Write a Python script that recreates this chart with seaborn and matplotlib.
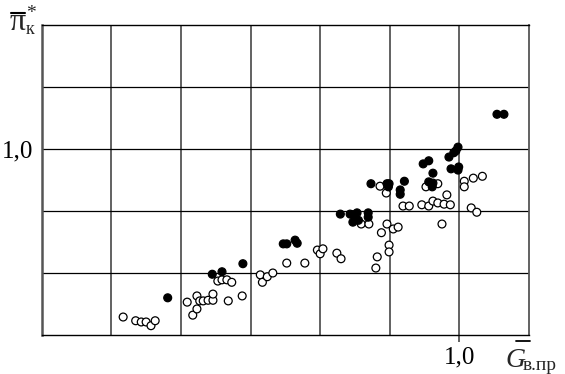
import matplotlib
matplotlib.use("Agg")
import matplotlib.pyplot as plt
from matplotlib.lines import Line2D
import seaborn as sns
import pandas as pd

# ---- data ----
open_x = [0.517, 0.535, 0.543, 0.550, 0.557, 0.563, 0.609, 0.617, 0.623, 0.623,
          0.627, 0.632, 0.639, 0.646, 0.646, 0.668, 0.688, 0.653, 0.659, 0.666,
          0.673, 0.714, 0.717, 0.724, 0.732, 0.752, 0.778, 0.796, 0.800, 0.804,
          0.824, 0.830, 0.880, 0.882, 0.899, 0.899, 0.888, 0.859, 0.870, 0.896,
          0.905, 0.912, 0.886, 0.895, 0.919, 0.928, 0.946, 0.956, 0.962, 0.969,
          0.978, 0.987, 0.982, 0.952, 0.969, 1.007, 1.007, 1.020, 1.033, 1.017,
          1.025, 0.975]
open_y = [0.729, 0.723, 0.721, 0.721, 0.715, 0.723, 0.753, 0.732, 0.742, 0.763,
          0.755, 0.755, 0.756, 0.756, 0.766, 0.755, 0.763, 0.787, 0.789, 0.789,
          0.785, 0.797, 0.785, 0.794, 0.800, 0.816, 0.816, 0.837, 0.831, 0.839,
          0.832, 0.823, 0.808, 0.826, 0.845, 0.834, 0.865, 0.879, 0.879, 0.879,
          0.871, 0.874, 0.940, 0.929, 0.908, 0.908, 0.910, 0.908, 0.916, 0.913,
          0.911, 0.910, 0.926, 0.939, 0.944, 0.948, 0.939, 0.953, 0.956, 0.905,
          0.898, 0.879]

filled_x = [0.581, 0.645, 0.659, 0.689, 0.747, 0.752, 0.764, 0.767, 0.829, 0.843,
            0.847, 0.853, 0.847, 0.855, 0.869, 0.869, 0.873, 0.896, 0.899, 0.898,
            0.915, 0.915, 0.921, 0.956, 0.962, 0.961, 0.962, 0.948, 0.956, 0.985,
            0.992, 0.995, 0.998, 0.988, 0.999, 0.998, 1.054, 1.064]
filled_y = [0.760, 0.798, 0.802, 0.815, 0.847, 0.847, 0.853, 0.848, 0.895, 0.895,
            0.894, 0.897, 0.882, 0.885, 0.897, 0.890, 0.944, 0.944, 0.944, 0.939,
            0.934, 0.927, 0.948, 0.947, 0.945, 0.939, 0.961, 0.976, 0.981, 0.987,
            0.994, 0.997, 1.003, 0.968, 0.971, 0.966, 1.056, 1.056]

x_ticks = [0.5, 0.6, 0.7, 0.8, 0.9, 1.0]
x_tick_labels = ["", "", "", "", "", "1,0"]
y_ticks = [0.8, 0.9, 1.0, 1.1]
y_tick_labels = ["", "", "1,0", ""]

df = pd.DataFrame({
    "G": open_x + filled_x,
    "pi": open_y + filled_y,
    "kind": ["open"] * len(open_x) + ["filled"] * len(filled_x),
})

sns.set_theme(style="white")
plt.rcParams["font.family"] = ["Liberation Serif", "DejaVu Serif"]

W, H = 565, 374
fig = plt.figure(figsize=(W / 100, H / 100), dpi=100)
ax = fig.add_axes([41.7 / W, 39 / H, 487.3 / W, 310 / H])

sns.scatterplot(data=df, x="G", y="pi", hue="kind",
                palette={"open": "white", "filled": "black"},
                edgecolor="black", linewidth=0.9, s=32, legend=False,
                ax=ax, zorder=3, clip_on=False)

ax.set_xlim(0.4, 1.1)
ax.set_ylim(0.7, 1.2)
ax.set_xticks(x_ticks)
ax.set_xticklabels(x_tick_labels, fontsize=18)
ax.set_yticks(y_ticks)
ax.set_yticklabels(y_tick_labels, fontsize=18)
ax.set_xlabel("")
ax.set_ylabel("")

ax.xaxis.grid(True, color="#555555", linewidth=1.3)
ax.yaxis.grid(True, color="black", linewidth=0.9)
ax.set_axisbelow(True)

ax.tick_params(axis="x", length=5, width=1.3, color="#555555", pad=3,
               bottom=True, labelcolor="black")
ax.tick_params(axis="y", length=0, pad=6, left=True, labelcolor="black")
for i, t in enumerate(ax.xaxis.get_major_ticks()):
    if x_tick_labels[i] == "":
        t.tick1line.set_visible(False)

for side in ["top", "bottom"]:
    ax.spines[side].set_color("black")
    ax.spines[side].set_linewidth(1.0)
ax.spines["left"].set_color("#555555")
ax.spines["left"].set_linewidth(1.8)
ax.spines["right"].set_color("#555555")
ax.spines["right"].set_linewidth(1.3)


def fx(px):
    return px / W


def fy(py):
    return 1 - py / H


# y-axis label: overline pi, star superscript, k subscript
fig.text(fx(10), fy(30), "π", fontsize=23, ha="left", va="baseline")
fig.add_artist(Line2D([fx(11), fx(25)], [fy(13), fy(13)], color="black", lw=1.5))
fig.text(fx(26), fy(18), "*", fontsize=14, ha="left", va="baseline")
fig.text(fx(26), fy(34), "к", fontsize=13, ha="left", va="baseline")

# x-axis label: overline G italic, subscript
fig.text(fx(505), fy(367), "G", fontsize=20, style="italic", ha="left", va="baseline")
fig.add_artist(Line2D([fx(516), fx(530)], [fy(341), fy(341)], color="black", lw=1.3))
fig.text(fx(523), fy(370), "в.пр", fontsize=14, ha="left", va="baseline")

fig.savefig("out.png", dpi=100)
